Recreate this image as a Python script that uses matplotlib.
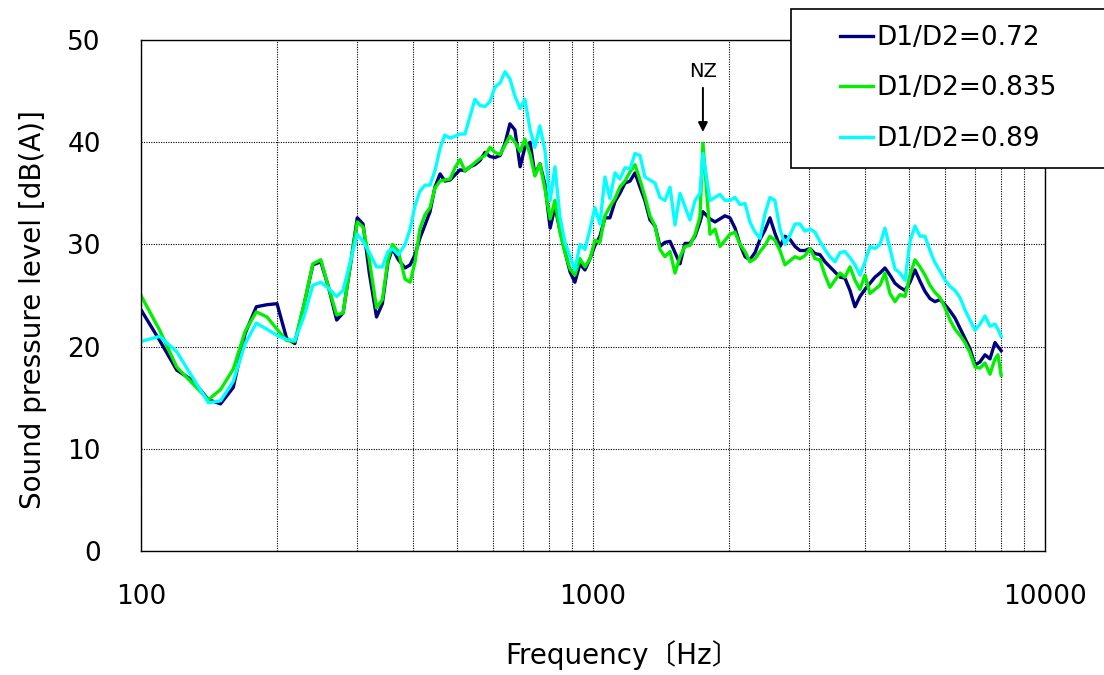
import matplotlib
matplotlib.use('Agg')
import matplotlib.pyplot as plt
from matplotlib.ticker import FixedLocator, NullFormatter
from matplotlib.legend_handler import HandlerLine2D
from matplotlib.lines import Line2D

plt.rcParams['font.family'] = ['DejaVu Sans', 'Noto Sans CJK JP']

# spectrum data: frequency [Hz] and A-weighted SPL [dB(A)] for each diameter ratio
freq = [100, 110, 120, 130, 141, 150, 160, 170, 180, 190,
        200, 210, 219, 230, 240, 250, 260, 271, 280, 290,
        301, 310, 320, 332, 342, 352, 360, 371, 384, 394,
        404, 414, 425, 436, 447, 459, 470, 483, 495, 508,
        521, 535, 548, 562, 577, 592, 607, 623, 639, 655,
        672, 690, 707, 726, 744, 763, 783, 804, 824, 845,
        867, 890, 912, 936, 960, 985, 1010, 1036, 1063, 1090,
        1119, 1147, 1177, 1208, 1239, 1271, 1303, 1337, 1372, 1407,
        1443, 1481, 1519, 1558, 1598, 1639, 1682, 1725, 1751, 1815,
        1862, 1910, 1959, 2010, 2062, 2115, 2170, 2225, 2283, 2342,
        2402, 2464, 2527, 2593, 2660, 2728, 2799, 2871, 2944, 3021,
        3099, 3178, 3261, 3344, 3431, 3520, 3610, 3704, 3799, 3897,
        3998, 4101, 4207, 4315, 4426, 4541, 4658, 4778, 4902, 5028,
        5158, 5291, 5428, 5568, 5711, 5859, 6010, 6165, 6324, 6487,
        6654, 6826, 7002, 7183, 7368, 7558, 7753, 7870, 8000]

spl_072 = [23.6, 20.6, 17.7, 16.7, 14.8, 14.4, 16.0, 21.3, 23.9, 24.1,
           24.2, 20.8, 20.3, 24.3, 28.0, 28.3, 25.8, 22.6, 23.3, 27.7,
           32.6, 32.0, 27.2, 22.9, 24.2, 28.3, 29.6, 28.5, 27.7, 28.0,
           29.0, 30.6, 31.9, 33.2, 35.6, 36.9, 36.2, 36.3, 36.8, 37.3,
           37.2, 37.6, 37.8, 38.2, 39.0, 38.6, 38.5, 38.7, 39.9, 41.8,
           41.2, 37.6, 39.5, 40.0, 36.8, 37.9, 35.9, 31.6, 33.7, 31.4,
           29.3, 27.3, 26.3, 28.1, 27.5, 28.6, 29.9, 30.8, 32.6, 32.6,
           34.2, 35.0, 36.0, 36.2, 37.0, 35.6, 34.3, 32.4, 31.8, 29.8,
           30.2, 30.3, 29.2, 28.1, 30.1, 30.1, 30.8, 32.2, 33.2, 32.5,
           32.2, 32.5, 32.8, 32.6, 31.6, 30.0, 28.8, 28.5, 29.2, 30.5,
           31.4, 32.6, 31.1, 29.8, 30.8, 30.5, 29.8, 29.4, 29.4, 29.6,
           29.1, 29.0, 28.3, 27.8, 27.3, 26.8, 26.7, 25.5, 23.9, 24.9,
           25.6, 26.2, 26.8, 27.2, 27.7, 27.0, 26.2, 25.8, 25.5, 26.3,
           27.5, 26.4, 25.4, 24.7, 24.4, 24.6, 24.1, 23.5, 22.8, 21.8,
           20.8, 19.8, 18.2, 18.5, 19.2, 18.8, 20.4, 20.0, 19.6]

spl_0835 = [25.0, 21.6, 18.0, 16.4, 14.8, 15.8, 17.8, 21.5, 23.4, 22.9,
            21.7, 20.6, 20.5, 24.3, 28.1, 28.5, 25.8, 23.1, 23.3, 27.8,
            32.2, 31.7, 28.5, 23.8, 24.6, 28.5, 30.0, 29.3, 26.6, 26.3,
            28.3, 31.5, 32.9, 33.6, 35.5, 36.2, 36.3, 36.4, 37.5, 38.3,
            37.2, 37.6, 38.0, 38.4, 38.7, 39.5, 39.0, 38.8, 39.7, 40.6,
            40.0, 39.1, 40.3, 38.8, 36.7, 37.9, 35.4, 32.5, 34.3, 31.2,
            29.2, 27.6, 27.0, 28.6, 27.8, 28.6, 30.4, 30.2, 32.8, 33.7,
            34.5, 35.6, 36.2, 37.1, 37.8, 36.3, 34.7, 32.8, 31.8, 29.5,
            28.8, 29.3, 27.2, 28.8, 29.8, 29.9, 31.0, 32.7, 39.9, 31.0,
            31.5, 29.8, 30.4, 31.0, 31.2, 30.0, 29.3, 28.3, 28.6, 29.3,
            29.9, 30.8, 30.4, 29.4, 28.0, 28.4, 28.8, 28.6, 28.9, 29.6,
            28.6, 28.5, 27.0, 25.8, 26.5, 27.2, 26.8, 27.8, 26.5, 25.6,
            27.0, 25.2, 25.6, 26.0, 27.2, 25.2, 24.4, 25.1, 24.9, 27.0,
            28.5, 27.8, 27.0, 26.0, 25.3, 24.8, 23.8, 22.6, 21.7, 21.1,
            20.4, 19.4, 18.0, 17.9, 18.4, 17.3, 18.8, 19.2, 17.2]

spl_089 = [20.5, 21.0, 19.5, 17.0, 14.5, 14.7, 16.6, 20.3, 22.3, 21.7,
           21.1, 20.7, 20.6, 23.1, 26.0, 26.3, 25.7, 24.9, 25.5, 28.2,
           31.0, 30.3, 29.2, 27.8, 27.8, 29.3, 29.6, 29.0, 30.0, 31.5,
           33.8, 35.2, 35.8, 35.8, 37.2, 39.4, 40.7, 40.4, 40.6, 40.8,
           40.8, 42.6, 44.2, 43.6, 43.5, 44.0, 45.4, 45.8, 46.9, 46.2,
           44.5, 43.3, 44.2, 41.2, 39.5, 41.6, 39.2, 34.3, 37.6, 32.7,
           30.2, 28.8, 27.5, 30.0, 29.5, 31.5, 33.6, 32.0, 36.6, 34.5,
           37.0, 36.4, 37.5, 37.4, 38.9, 38.7, 36.6, 36.3, 36.0, 34.6,
           34.3, 35.6, 31.9, 35.0, 33.7, 32.4, 34.3, 35.0, 38.9, 34.3,
           34.6, 34.9, 34.3, 34.3, 34.6, 33.9, 34.0, 32.2, 31.2, 30.6,
           33.0, 34.6, 34.3, 31.5, 30.0, 30.9, 32.0, 32.0, 31.3, 31.5,
           31.2, 30.3, 29.5, 28.8, 28.3, 29.2, 29.3, 28.7, 28.0, 27.0,
           28.3, 29.8, 29.6, 30.0, 31.6, 29.6, 27.6, 27.2, 26.5, 30.3,
           31.8, 30.8, 30.8, 29.4, 28.2, 27.4, 26.5, 25.9, 25.5, 24.8,
           23.6, 22.6, 21.6, 22.2, 23.0, 22.0, 22.2, 21.7, 21.0]

labels = ['D1/D2=0.72', 'D1/D2=0.835', 'D1/D2=0.89']
colors = ['#00007f', '#00f000', '#00ffff']


class ShortLineHandler(HandlerLine2D):
    # legend key drawn only over the right part of the handle box
    def create_artists(self, legend, orig_handle, xdescent, ydescent,
                       width, height, fontsize, trans):
        y = height / 2 - ydescent
        x1 = -xdescent + width
        x0 = -xdescent + width * 0.5
        line = Line2D([x0, x1], [y, y])
        self.update_prop(line, orig_handle, legend)
        line.set_transform(trans)
        return [line]


fig = plt.figure(figsize=(11.04, 6.75), dpi=100)
ax = fig.add_axes([0.1277, 0.1837, 0.8188, 0.757])

lines = []
for ys, lab, col in zip([spl_072, spl_0835, spl_089], labels, colors):
    ln, = ax.plot(freq, ys, color=col, lw=2.4, label=lab)
    lines.append(ln)

ax.set_xscale('log')
ax.set_xlim(100, 10000)
ax.set_ylim(0, 50)
ax.set_yticks(range(0, 51, 10))
ax.xaxis.set_major_locator(FixedLocator([100, 1000, 10000]))
ax.set_xticklabels(['100', '1000', '10000'])
minor = [f * d for d in (100, 1000) for f in range(2, 10)]
ax.xaxis.set_minor_locator(FixedLocator(minor))
ax.xaxis.set_minor_formatter(NullFormatter())

ax.grid(which='both', color='black', linestyle=(0, (1, 1.2)), linewidth=0.8)
ax.set_axisbelow(True)
for sp in ax.spines.values():
    sp.set_linewidth(1.0)

ax.tick_params(axis='both', which='both', length=0, labelsize=19)
ax.tick_params(axis='x', pad=24)
ax.tick_params(axis='y', pad=29)

fig.text(622 / 1104, 1 - 655 / 675, 'Frequency〔Hz〕', fontsize=20,
         ha='center', va='center')
fig.text(33 / 1104, 1 - 310 / 675, 'Sound pressure level [dB(A)]', fontsize=20,
         rotation=90, ha='center', va='center')

# narrow-band peak marker
ax.annotate('NZ', xy=(1751, 41.0), xytext=(1751, 46.0), ha='center', va='bottom',
            fontsize=14,
            arrowprops=dict(arrowstyle='-|>', color='black', lw=1.4,
                            mutation_scale=14, shrinkA=3, shrinkB=0))

leg = fig.legend(handles=lines, labels=labels, loc='upper left',
                 bbox_to_anchor=(791 / 1104, 0.5, 0.32, 1 - 9 / 675 - 0.5),
                 mode='expand', fontsize=19, frameon=True, fancybox=False,
                 edgecolor='black', framealpha=1, handlelength=2.5,
                 handletextpad=0.15, labelspacing=0.93, borderpad=0.6,
                 borderaxespad=0,
                 handler_map={Line2D: ShortLineHandler()})
leg.get_frame().set_linewidth(1.2)

fig.savefig('out.png', dpi=100)
